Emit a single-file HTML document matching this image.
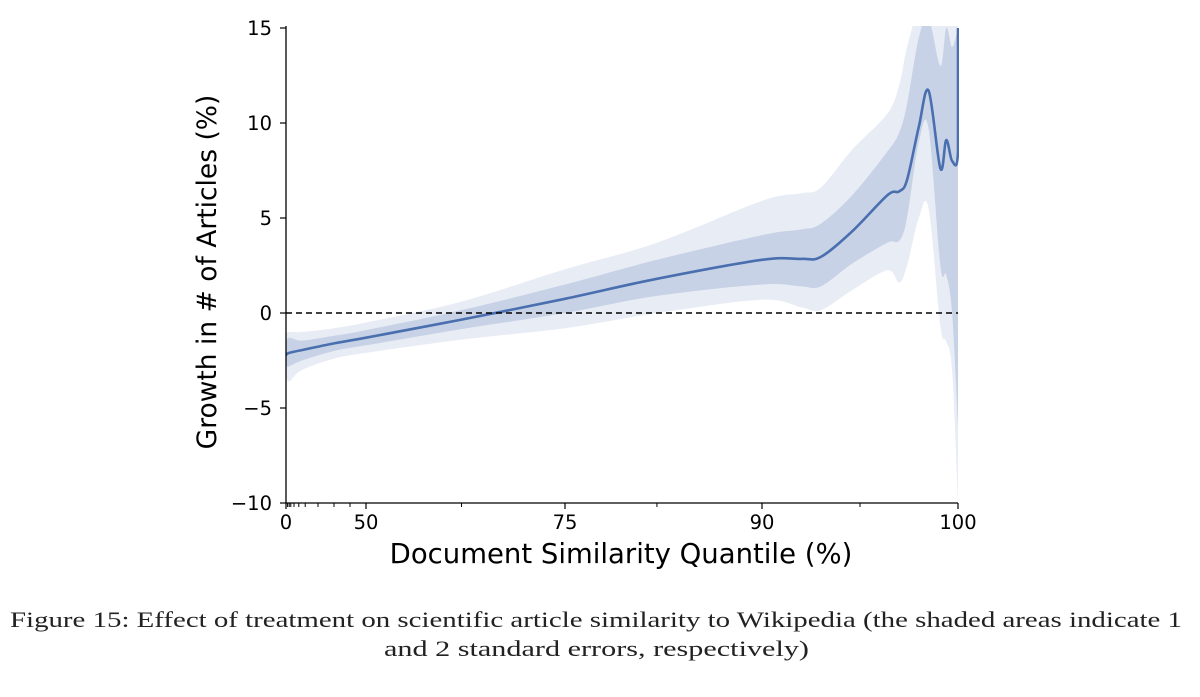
<!DOCTYPE html>
<html><head><meta charset="utf-8"><style>
body{margin:0;background:#fff;width:1200px;height:697px;overflow:hidden}
svg{display:block}
text{font-family:"DejaVu Sans","Liberation Sans",sans-serif}
.cap{font-family:"Liberation Serif",serif;font-size:22px;fill:#222}
</style></head><body>
<svg id="chart" width="1200" height="697">
<defs><clipPath id="plotclip"><rect x="286" y="26" width="673" height="477"/></clipPath></defs>
<g id="bands" clip-path="url(#plotclip)"></g>
<g id="axes"></g>
<text x="216" y="272" font-size="26.5" text-anchor="middle" transform="rotate(-90 216 272)">Growth in # of Articles (%)</text>
<text x="621" y="563" font-size="27.5" text-anchor="middle">Document Similarity Quantile (%)</text>
<text class="cap" x="10" y="627" textLength="1172" lengthAdjust="spacingAndGlyphs">Figure 15: Effect of treatment on scientific article similarity to Wikipedia (the shaded areas indicate 1</text>
<text class="cap" x="384" y="656" textLength="425" lengthAdjust="spacingAndGlyphs">and 2 standard errors, respectively)</text>
</svg>
<script>
const quantiles = [0,2,10,30,50,62,75,82,90,92,93,94.6,96.4,97,97.4,98,98.5,99.1,99.4,99.7,100,100];
const effect    = [-2.2,-2.1,-1.95,-1.6,-1.3,-0.35,0.75,1.8,2.8,2.85,2.95,4.3,6.2,6.4,7.0,9.8,11.7,7.6,9.1,8.0,8.5,15];
const se1Upper  = [-1.6,-1.3,-1.45,-1.2,-0.9,0.15,1.5,2.8,4.1,4.4,4.7,6.2,8.5,9.5,11,14.5,15.5,13,15,14,15,15];
const se1Lower  = [-2.8,-2.8,-2.5,-2.0,-1.7,-0.85,0.0,0.9,1.5,1.4,1.4,2.6,3.7,3.8,5,9.0,9.7,2.5,2.0,0.0,-6,-6];
const se2Upper  = [-1.1,-1.0,-1.0,-0.8,-0.5,0.6,2.3,3.7,5.9,6.3,6.6,8.6,10.5,12,14,16,16,16,16,16,16,16];
const se2Lower  = [-3.3,-3.6,-3.0,-2.4,-2.1,-1.4,-0.8,0.0,0.7,0.3,0.15,1.2,2.25,1.6,2.5,5.0,5.5,-0.7,-1.5,-3,-10,-10];
const yTicks = [15,10,5,0,-5,-10];
const xTicks = [0,50,75,90,100];
const xMinorTicks = [1,2,3,5,8,12,20,30,40,62,82,95];

const NS="http://www.w3.org/2000/svg";
const xKnots=[[0,286],[50,366],[75,565],[90,762],[100,958]];
function xScale(q){for(let i=0;i<xKnots.length-1;i++){const [a,pa]=xKnots[i],[b,pb]=xKnots[i+1];if(q<=b)return pa+(q-a)/(b-a)*(pb-pa);}return 958;}
function yScale(v){return 313-v*19.0;}
function mk(tag,attrs,parent){const e=document.createElementNS(NS,tag);for(const k in attrs)e.setAttribute(k,attrs[k]);parent.appendChild(e);return e;}
function clamp(v,a,b){const lo=Math.min(a,b),hi=Math.max(a,b);return Math.min(Math.max(v,lo),hi);}
function smooth(pts,start){let d=(start?'M':'L')+pts[0][0].toFixed(1)+','+pts[0][1].toFixed(1);
 for(let i=0;i<pts.length-1;i++){const p0=pts[Math.max(0,i-1)],p1=pts[i],p2=pts[i+1],p3=pts[Math.min(pts.length-1,i+2)];
  const t=1/6;const c1=[p1[0]+(p2[0]-p0[0])*t,p1[1]+(p2[1]-p0[1])*t],c2=[p2[0]-(p3[0]-p1[0])*t,p2[1]-(p3[1]-p1[1])*t];
  c1[0]=clamp(c1[0],p1[0],p2[0]);c2[0]=clamp(c2[0],p1[0],p2[0]);
  d+='C'+c1[0].toFixed(1)+','+c1[1].toFixed(1)+' '+c2[0].toFixed(1)+','+c2[1].toFixed(1)+' '+p2[0].toFixed(1)+','+p2[1].toFixed(1);}
 return d;}
function pts(arr){return quantiles.map((q,i)=>[xScale(q),yScale(arr[i])]);}
const bands=document.getElementById('bands'),axes=document.getElementById('axes');
function bandPath(up,lo){return smooth(pts(up),true)+smooth(pts(lo).reverse(),false)+'Z';}
const b2=mk('path',{d:bandPath(se2Upper,se2Lower),fill:'#e8ecf5'},bands);


const b1=mk('path',{d:bandPath(se1Upper,se1Lower),fill:'#c8d2e7'},bands);


const line=mk('path',{d:smooth(pts(effect),true),fill:'none',stroke:'#4a6fae','stroke-width':2.6,'stroke-linejoin':'round'},bands);


const zl=mk('line',{x1:286,x2:958,y1:yScale(0),y2:yScale(0),stroke:'#000','stroke-width':1.4,'stroke-dasharray':'6,4'},axes);


const ys=mk('line',{x1:286,x2:286,y1:26,y2:yScale(-10),stroke:'#000','stroke-width':1.3},axes);


const xs=mk('line',{x1:285.5,x2:958,y1:yScale(-10),y2:yScale(-10),stroke:'#000','stroke-width':1.3},axes);


yTicks.forEach(v=>{const y=yScale(v);
 mk('line',{x1:280,x2:286,y1:y,y2:y,stroke:'#000','stroke-width':1.2},axes);
 const t=mk('text',{x:272,y:y+7,'font-size':19.5,'text-anchor':'end'},axes);t.textContent=(v<0?'\u2212':'')+Math.abs(v);
 
 });
xTicks.forEach(q=>{const x=xScale(q);const y0=yScale(-10);
 mk('line',{x1:x,x2:x,y1:y0,y2:y0+6,stroke:'#000','stroke-width':1.2},axes);
 const t=mk('text',{x:x,y:y0+26,'font-size':19.5,'text-anchor':'middle'},axes);t.textContent=q;
 
 });
xMinorTicks.forEach(q=>{const x=xScale(q),y0=yScale(-10);mk('line',{x1:x,x2:x,y1:y0,y2:y0+4,stroke:'#000','stroke-width':1},axes);});
</script>
</body></html>
